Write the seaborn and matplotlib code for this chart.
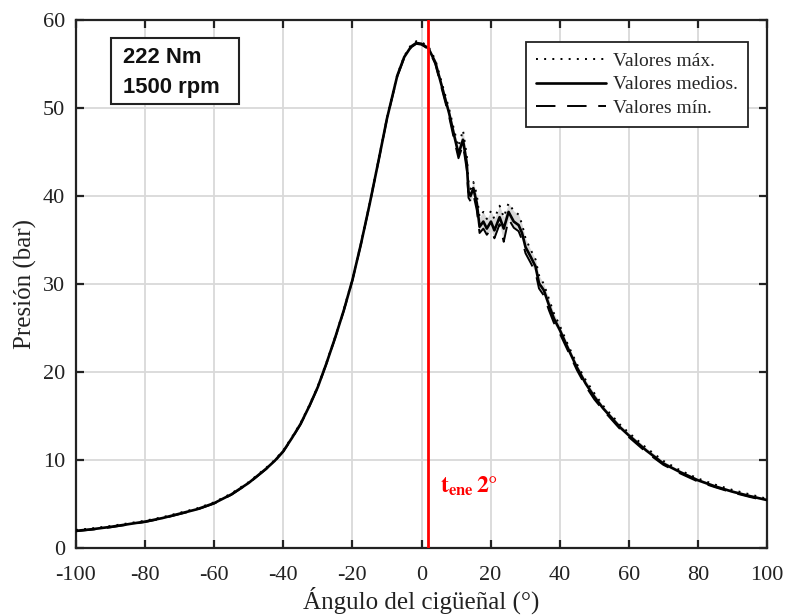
import matplotlib
matplotlib.use("Agg")
import matplotlib.pyplot as plt
from matplotlib.patches import Rectangle
import seaborn as sns
import pandas as pd

angle = [-100, -95, -90, -85, -80, -75, -70, -65, -60, -55, -50, -45,
         -42.5, -40, -37.5, -35, -32.5, -30, -27.5, -25, -22.5, -20, -17.5, -15, -12.5, -10,
         -7, -5, -3, -1.5, 0, 2, 4, 6, 8, 9.5,
         10.7, 12.0, 13.1, 13.6, 14.2, 15.0, 16.0, 16.8, 17.9, 18.9, 20.1, 21.1, 22.6,
         23.8, 25.2, 26.7, 28.1, 29.1, 30.1, 31.6, 33.0, 34.0, 35.4, 36.9, 38.3,
         40, 42.5, 45, 47.5, 50, 52.5, 55, 57.5, 60, 65, 70, 75, 80, 85, 90, 95, 100]
p_mean = [1.95, 2.15, 2.4, 2.7, 3.0, 3.4, 3.9, 4.4, 5.1, 6.1, 7.4, 9.0,
          9.9, 11.0, 12.5, 14.1, 16.1, 18.3, 21.0, 23.9, 27.0, 30.45, 34.6, 39.1, 43.9, 48.8,
          53.7, 55.8, 57.0, 57.4, 57.3, 56.8, 55.2, 52.3, 49.4, 46.8,
          44.8, 46.4, 43.7, 40.5, 40.0, 40.9, 39.2, 36.5, 37.1, 36.3, 37.1, 36.1, 37.6,
          36.3, 38.2, 37.1, 36.7, 35.8, 34.2, 33.1, 32.0, 30.1, 29.3, 27.6, 26.1,
          24.8, 22.6, 20.5, 18.7, 17.2, 15.9, 14.8, 13.7, 12.8, 11.1, 9.6, 8.6, 7.7, 7.0, 6.4, 5.9, 5.45]
p_max = [2.05, 2.25, 2.5, 2.8, 3.1, 3.5, 4.0, 4.5, 5.2, 6.2, 7.5, 9.1,
         10.0, 11.1, 12.6, 14.2, 16.2, 18.4, 21.1, 24.0, 27.1, 30.55, 34.7, 39.2, 44.0, 48.9,
         53.8, 55.9, 57.2, 57.6, 57.5, 57.0, 55.5, 52.7, 49.9, 47.4,
         45.6, 47.5, 44.6, 41.6, 40.8, 41.6, 40.2, 37.6, 38.2, 37.4, 38.3, 37.4, 38.9,
         37.6, 39.2, 38.3, 37.9, 36.8, 35.2, 33.9, 32.8, 31.0, 30.0, 28.3, 26.7,
         25.3, 23.0, 20.9, 19.1, 17.6, 16.2, 15.1, 14.0, 13.1, 11.4, 9.9, 8.8, 7.9, 7.2, 6.6, 6.1, 5.6]
p_min = [1.9, 2.1, 2.35, 2.65, 2.95, 3.35, 3.85, 4.35, 5.05, 6.05, 7.35, 8.95,
         9.85, 10.95, 12.45, 14.05, 16.05, 18.25, 20.95, 23.85, 26.95, 30.4, 34.55, 39.05, 43.85, 48.75,
         53.6, 55.7, 56.9, 57.3, 57.2, 56.7, 55.0, 52.0, 49.0, 46.3,
         44.3, 45.8, 43.0, 39.8, 39.4, 40.2, 38.4, 35.8, 36.3, 35.6, 36.2, 35.2, 36.8,
         34.8, 37.4, 36.4, 36.0, 35.0, 33.5, 32.4, 31.3, 29.5, 28.7, 27.0, 25.6,
         24.4, 22.3, 20.2, 18.4, 16.9, 15.7, 14.6, 13.5, 12.6, 10.9, 9.45, 8.45, 7.55, 6.9, 6.3, 5.8, 5.35]

x_ticks = [-100, -80, -60, -40, -20, 0, 20, 40, 60, 80, 100]
y_ticks = [0, 10, 20, 30, 40, 50, 60]
t_ene = 2

df = pd.DataFrame({"angle": angle, "mean": p_mean, "max": p_max, "min": p_min})

sns.set_theme(style="whitegrid")
plt.rcParams["font.family"] = ["Liberation Serif", "DejaVu Serif"]
plt.rcParams["axes.unicode_minus"] = False
plt.rcParams["mathtext.fontset"] = "stix"

fig = plt.figure(figsize=(7.85, 6.16), dpi=100)
ax = fig.add_axes([0.0968, 0.1104, 0.8803, 0.857])

ax.fill_between(df["angle"], df["min"], df["max"], color="#d8d8d8", lw=0, zorder=2)
sns.lineplot(data=df, x="angle", y="max", ax=ax, color="black", lw=1.4,
             linestyle=(0, (1, 3.2)), label="Valores máx.", zorder=3)
sns.lineplot(data=df, x="angle", y="mean", ax=ax, color="black", lw=1.9,
             linestyle="-", label="Valores medios.", zorder=5)
sns.lineplot(data=df, x="angle", y="min", ax=ax, color="black", lw=1.4,
             linestyle=(0, (10, 6)), label="Valores mín.", zorder=4)

ax.axvline(t_ene, color="red", lw=2, zorder=6)
ax.text(5.3, 6.3, r"$\mathbf{t_{ene}\,2°}$", color="red", fontsize=17,
        ha="left", va="baseline", zorder=7)

ax.set_xlim(-100, 100)
ax.set_ylim(0, 60)
ax.set_xticks(x_ticks)
ax.set_yticks(y_ticks)
ax.set_xticklabels([str(v) for v in x_ticks])
ax.set_facecolor("white")
ax.grid(True, color="#d9d9d9", lw=1.3)
for s in ax.spines.values():
    s.set_color("#222222")
    s.set_linewidth(1.6)
    s.set_visible(True)
ax.tick_params(direction="in", length=6, width=1.6, color="#222222",
               top=True, right=True, bottom=True, left=True,
               labelsize=16, labelcolor="#222222")
ax.tick_params(axis="x", pad=13)
ax.tick_params(axis="y", pad=8)
ax.set_xlabel("Ángulo del cigüeñal (°)", fontsize=18, color="#222222", labelpad=1)
ax.set_ylabel("Presión (bar)", fontsize=18, color="#222222", labelpad=4)

leg = ax.legend(loc="upper right", bbox_to_anchor=(0.9725, 0.958), borderaxespad=0,
                fontsize=14, frameon=True, fancybox=False, edgecolor="#222222",
                handlelength=3.6, handletextpad=0.4, borderpad=0.5,
                labelspacing=0.32)
leg.get_frame().set_linewidth(1.3)
leg.get_frame().set_facecolor("white")
leg.get_frame().set_alpha(1)

ax.add_patch(Rectangle((0.0507, 0.8409), 0.1852, 0.125, transform=ax.transAxes,
                       facecolor="white", edgecolor="#222222", lw=1.5, zorder=8))
box_font = dict(fontsize=15.8, fontweight="bold", family=["Liberation Sans", "DejaVu Sans"],
                ha="left", va="baseline", transform=ax.transAxes, zorder=9,
                color="#111111")
ax.text(0.0676, 0.9186, "222 Nm", **box_font)
ax.text(0.0676, 0.8617, "1500 rpm", **box_font)

fig.savefig("out.png", dpi=100, facecolor="white")
